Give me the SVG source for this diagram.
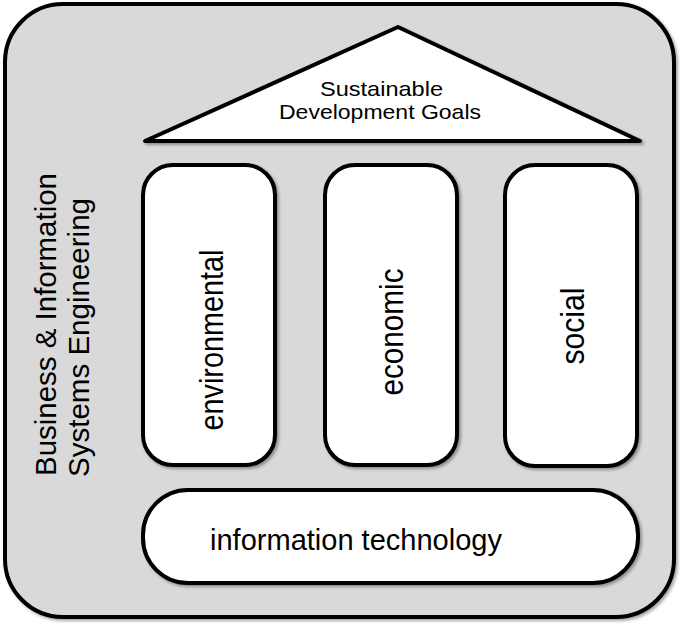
<svg xmlns="http://www.w3.org/2000/svg" width="685" height="629" viewBox="0 0 685 629">
<defs>
<filter id="sh" x="-10%" y="-10%" width="130%" height="130%">
<feDropShadow dx="2" dy="2" stdDeviation="1.5" flood-color="#000" flood-opacity="0.35"/>
</filter>
</defs>
<style>
.box{fill:#fff;stroke:#000;stroke-width:4;filter:url(#sh)}
.t{font-family:"Liberation Sans",Arial,sans-serif;fill:#000}
</style>
<rect width="685" height="629" fill="#fff"/>
<g id="frame">
<rect x="5" y="4" width="669" height="613" rx="58" fill="#d9d9d9" stroke="#000" stroke-width="4" filter="url(#sh)"/>
<text class="t" font-size="29" transform="translate(56,476) rotate(-90)" textLength="303" lengthAdjust="spacingAndGlyphs">Business &amp; Information</text>
<text class="t" font-size="29" transform="translate(89,477) rotate(-90)" textLength="279" lengthAdjust="spacingAndGlyphs">Systems Engineering</text>
</g>
<g id="roof">
<polygon class="box" points="145,141 398,27 640,141" stroke-linejoin="round"/>
<text class="t" font-size="21" x="320" y="96" textLength="123" lengthAdjust="spacingAndGlyphs">Sustainable</text>
<text class="t" font-size="21" x="279" y="119" textLength="202" lengthAdjust="spacingAndGlyphs">Development Goals</text>
</g>
<g id="environmental">
<rect class="box" x="143" y="165" width="132" height="300" rx="30"/>
<text class="t" font-size="33" text-anchor="middle" transform="translate(223,340) rotate(-90)" textLength="181" lengthAdjust="spacingAndGlyphs">environmental</text>
</g>
<g id="economic">
<rect class="box" x="325" y="165" width="132" height="300" rx="30"/>
<text class="t" font-size="33" text-anchor="middle" transform="translate(403,332) rotate(-90)" textLength="127" lengthAdjust="spacingAndGlyphs">economic</text>
</g>
<g id="social">
<rect class="box" x="505" y="165" width="132" height="301" rx="30"/>
<text class="t" font-size="33" text-anchor="middle" transform="translate(584,326) rotate(-90)" textLength="77" lengthAdjust="spacingAndGlyphs">social</text>
</g>
<g id="information-technology">
<rect class="box" x="143" y="490" width="495" height="93" rx="45"/>
<text class="t" font-size="29" x="210" y="550" textLength="292" lengthAdjust="spacingAndGlyphs">information technology</text>
</g>
</svg>
